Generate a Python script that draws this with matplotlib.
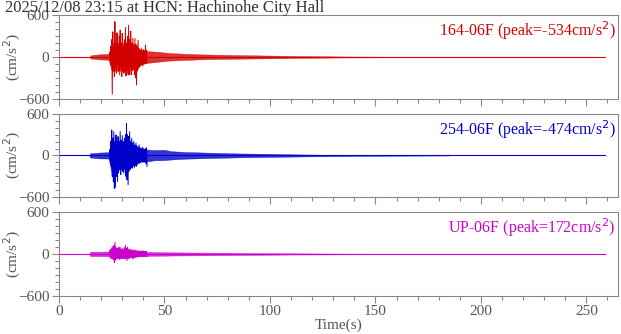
import numpy as np
import matplotlib
matplotlib.use("Agg")
import matplotlib.pyplot as plt
from matplotlib.ticker import MultipleLocator

plt.rcParams['font.family'] = ['Liberation Serif', 'DejaVu Serif']

title = "2025/12/08 23:15 at HCN: Hachinohe City Hall"
names = ["164-06F", "254-06F", "UP-06F"]
peaks = [-534, -474, 172]
colors = ["#d40000", "#0000cc", "#cc00cc"]
t_end = 259.0   # record length (s)

# strong motion part: (up, down) pairs every 0.5 s starting at 24.0 s
strong_t0 = 24.0
strong_1 = [(60, -50), (150, -120), (250, -534), (362, -200), (150, -281), (510, -150),
            (200, -234), (348, -120), (180, -200), (300, -258), (386, -150), (200, -281),
            (339, -180), (150, -234), (250, -200), (425, -272), (200, -180), (300, -250),
            (458, -258), (250, -150), (372, -258), (200, -200), (267, -180), (150, -250),
            (267, -300), (180, -401), (150, -200), (243, -162), (120, -140), (100, -129),
            (130, -110), (90, -129), (110, -100), (90, -90), (172, -91), (100, -80)]
strong_2 = [(80, -70), (200, -150), (367, -300), (250, -380), (343, -474), (200, -458),
            (296, -300), (180, -372), (272, -250), (200, -200), (343, -277), (220, -200),
            (286, -230), (200, -253), (250, -200), (300, -300), (463, -350), (300, -420),
            (272, -229), (343, -200), (200, -180), (248, -181), (180, -150), (200, -170),
            (150, -150), (176, -157), (140, -130), (120, -110), (153, -110), (110, -100),
            (100, -90), (120, -100), (100, -90), (90, -100), (100, -120), (110, -157)]
strong_3 = [(50, -45), (70, -60), (90, -70), (110, -80), (120, -122), (172, -90),
            (100, -70), (80, -70), (90, -60), (100, -80), (95, -60), (70, -70),
            (80, -60), (60, -55), (90, -70), (126, -60), (80, -95), (100, -60),
            (70, -70), (60, -50), (72, -50), (50, -60), (60, -72), (50, -45),
            (60, -50), (45, -40), (50, -45), (40, -40), (45, -38), (40, -40),
            (42, -38), (40, -36), (45, -40), (38, -36), (40, -38), (40, -36)]

# envelope of the dense part of the trace: (time, up, down)
band_1 = [(14.5, 0, 0), (15, 25, -22), (19, 38, -34), (23.5, 45, -40), (25, 200, -200),
          (30, 200, -200), (35, 200, -180), (38, 110, -110), (42, 85, -85), (48, 72, -65),
          (52, 58, -52), (60, 46, -42), (67, 38, -34), (83, 28, -25), (100, 21, -19),
          (115, 14, -12), (135, 8, -7), (155, 4, -4), (170, 2, -2), (190, 0, 0)]
band_2 = [(14.3, 0, 0), (14.8, 32, -30), (19, 42, -42), (23.5, 48, -44), (25, 220, -250),
          (30, 200, -180), (34, 170, -140), (38, 100, -85), (42, 85, -85), (45, 78, -70),
          (50, 82, -66), (53, 62, -58), (60, 50, -46), (70, 42, -38), (85, 30, -27),
          (100, 23, -21), (115, 15, -14), (135, 8, -8), (160, 3, -3), (185, 0, 0)]
band_3 = [(14.3, 0, 0), (14.8, 32, -30), (23.5, 36, -32), (25, 75, -65), (33, 60, -52),
          (38, 32, -30), (45, 28, -26), (55, 24, -22), (70, 20, -18), (90, 14, -13),
          (110, 10, -8), (140, 5, -4), (170, 2, -2), (195, 0, 0)]

strongs = [strong_1, strong_2, strong_3]
bands = [band_1, band_2, band_3]

fig = plt.figure(figsize=(6.21, 3.34), dpi=100)
gray = "#888888"
tcol = "#555555"
tops = [15.3, 113.8, 212.3]
h = 83.4
for i in range(3):
    ax = fig.add_axes([59 / 621, 1 - (tops[i] + h) / 334, 559 / 621, h / 334])
    c = colors[i]
    # baseline
    ax.plot([0, t_end], [0, 0], color=c, lw=0.8)
    # dense part of the trace
    b = bands[i]
    bt = [r[0] for r in b]
    bu = [r[1] for r in b]
    bd = [r[2] for r in b]
    ax.fill_between(bt, bd, bu, color=c, lw=0.3, alpha=0.8)
    # strong motion spikes
    s = strongs[i]
    tt, vv = [], []
    for k, (u, d) in enumerate(s):
        tt += [strong_t0 + 0.5 * k, strong_t0 + 0.5 * k + 0.25]
        vv += [u, d]
    ax.plot(tt, vv, color=c, lw=0.7)

    ax.set_xlim(0, 265)
    ax.set_ylim(-600, 600)
    ax.set_yticks([-600, 0, 600])
    ax.yaxis.set_minor_locator(MultipleLocator(100))
    ax.xaxis.set_major_locator(MultipleLocator(50))
    ax.xaxis.set_minor_locator(MultipleLocator(10))
    for sp in ax.spines.values():
        sp.set_color(gray)
        sp.set_linewidth(0.8)
    ax.tick_params(which='both', colors=gray, labelcolor=tcol, labelsize=11,
                   direction='out', width=0.8, pad=2)
    ax.tick_params(which='major', length=5)
    ax.tick_params(which='minor', length=3)
    ax.set_ylabel("(cm/s$^2$)", color=tcol, fontsize=11)
    ax.yaxis.set_label_coords(-36 / 559, 0.5)
    if i < 2:
        ax.tick_params(axis='x', labelbottom=False)
    else:
        ax.set_xlabel("Time(s)", color=tcol, fontsize=11, labelpad=0)
    ax.text(0.995, 0.95, "%s (peak=%dcm/s$^2$)" % (names[i], peaks[i]), color=c,
            fontsize=11.5, ha='right', va='top', transform=ax.transAxes)

fig.text(5 / 621, 1 - 0.2 / 334, title, ha='left', va='top', fontsize=12, color="#333333")
fig.savefig("out.png", dpi=100)
